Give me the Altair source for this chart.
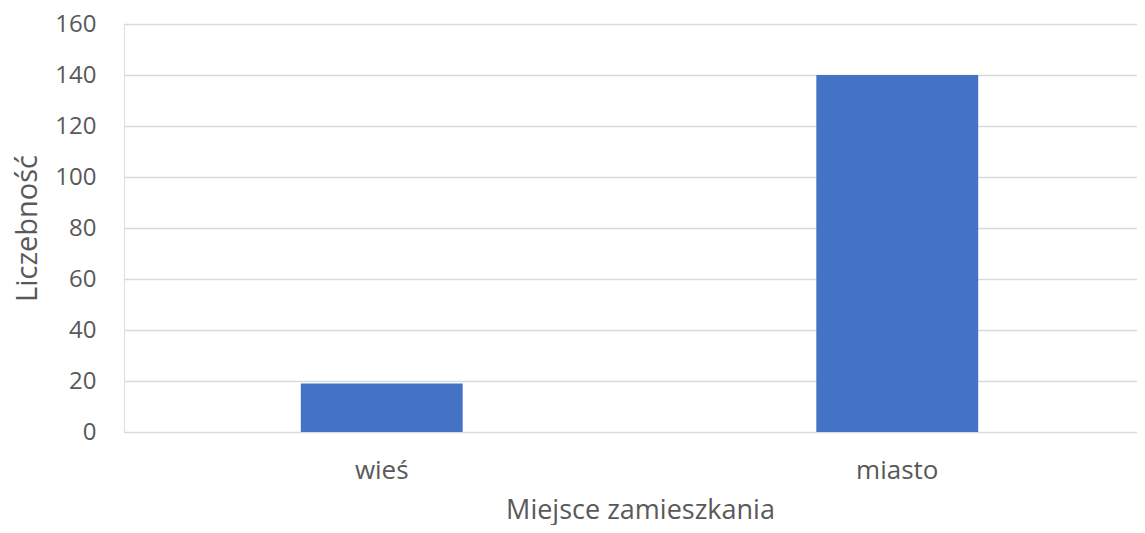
import altair as alt
import pandas as pd

categories = ["wieś", "miasto"]
counts = [19, 140]

df = pd.DataFrame({"Miejsce": categories, "Liczebnosc": counts})

FONT = "Open Sans"
TXT = "#595959"

chart = alt.Chart(df).mark_bar(color="#4472C4").encode(
    x=alt.X(
        "Miejsce:N",
        sort=categories,
        scale=alt.Scale(range=[0, 1031], paddingInner=0.686, paddingOuter=0.343),
        axis=alt.Axis(
            title="Miejsce zamieszkania",
            labelAngle=0,
            labelFont=FONT, labelFontSize=26, labelColor=TXT,
            labelPadding=46, labelBaseline="alphabetic",
            ticks=False, domain=False, grid=False,
            titleFont=FONT, titleFontSize=27, titleColor=TXT, titleFontWeight="normal",
            titleX=516, titleY=86, titleAlign="center", titleBaseline="alphabetic",
        ),
    ),
    y=alt.Y(
        "Liczebnosc:Q",
        scale=alt.Scale(domain=[0, 160], nice=False),
        axis=alt.Axis(
            title="Liczebność",
            values=[0, 20, 40, 60, 80, 100, 120, 140, 160],
            labelFont=FONT, labelFontSize=24, labelColor=TXT,
            labelPadding=28,
            ticks=False, domain=False,
            grid=True, gridColor="#D9D9D9", gridWidth=1.3,
            titleFont=FONT, titleFontSize=29, titleColor=TXT, titleFontWeight="normal",
            titleX=-97, titleY=204, titleAngle=270, titleAlign="center", titleBaseline="middle",
        ),
    ),
).properties(
    width=1013,
    height=408,
    autosize=alt.AutoSizeParams(type="none"),
    padding={"left": 116, "top": 16, "right": 0, "bottom": 93},
).configure_view(stroke=None).configure(background="white")

chart.save("out.html", embed_options={"renderer": "svg", "actions": False})
